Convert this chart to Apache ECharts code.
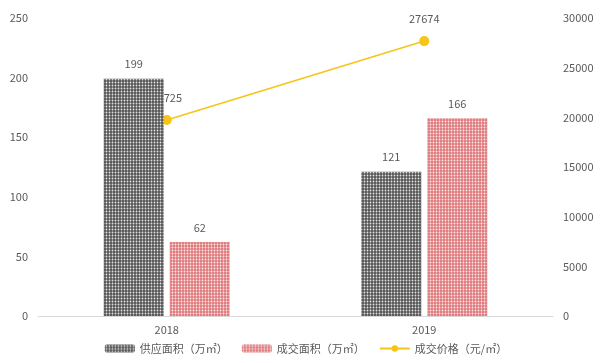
<!DOCTYPE html>
<html><head><meta charset="utf-8">
<script src="https://cdn.jsdelivr.net/npm/echarts@6/dist/echarts.min.js"></script>
<style>html,body{margin:0;padding:0;background:#fff}#c{width:612px;height:363px}</style>
</head><body><div id="c"></div>
<script>
var categories = ['2018', '2019'];
var supplyArea = [199, 121];
var dealArea = [62, 166];
var dealPrice = [19725, 27674];
var leftTicks = [0, 250, 50];
var rightTicks = [0, 30000, 5000];
var seriesNames = ['供应面积（万㎡）', '成交面积（万㎡）', '成交价格（元/㎡）'];

var font = '"Microsoft YaHei","Noto Sans CJK SC",sans-serif';
var txt = '#595959';
function dots(){
  return {symbol:'circle', symbolSize:0.6, color:'rgba(255,255,255,0.85)', dashArrayX:[3,0], dashArrayY:[3,0], rotation:0};
}
var chart = echarts.init(document.getElementById('c'));
chart.setOption({
  animation:false,
  textStyle:{fontFamily:font},
  grid:{left:38, right:59, top:18, bottom:47, containLabel:false},
  legend:{bottom:4, left:'center', itemWidth:30, itemHeight:8, itemGap:14,
    textStyle:{color:txt, fontSize:11, fontFamily:font},
    data:[{name:seriesNames[0]},{name:seriesNames[1]},{name:seriesNames[2]}]},
  xAxis:{type:'category', data:categories,
    axisLine:{lineStyle:{color:'#d9d9d9'}}, axisTick:{show:false},
    axisLabel:{color:txt, fontSize:11, margin:8}},
  yAxis:[
    {type:'value', min:leftTicks[0], max:leftTicks[1], interval:leftTicks[2],
      splitLine:{show:false}, axisLine:{show:false}, axisTick:{show:false},
      axisLabel:{color:txt, fontSize:11, margin:10}},
    {type:'value', min:rightTicks[0], max:rightTicks[1], interval:rightTicks[2],
      splitLine:{show:false}, axisLine:{show:false}, axisTick:{show:false},
      axisLabel:{color:txt, fontSize:11, margin:10, formatter:function(v){return String(v);}}}
  ],
  series:[
    {name:seriesNames[2], type:'line', yAxisIndex:1, data:dealPrice, z:1,
      symbol:'circle', symbolSize:10,
      lineStyle:{color:'#f5c518', width:1.6}, itemStyle:{color:'#f5c518'},
      label:{show:true, position:'top', distance:12, color:txt, fontSize:11}},
    {name:seriesNames[0], type:'bar', data:supplyArea, barWidth:60, barGap:'10%', z:2,
      itemStyle:{color:'#555555', decal:dots()},
      label:{show:true, position:'top', distance:9, color:txt, fontSize:11}},
    {name:seriesNames[1], type:'bar', data:dealArea, barWidth:60, z:2,
      itemStyle:{color:'#e07a7c', decal:dots()},
      label:{show:true, position:'top', distance:9, color:txt, fontSize:11}}
  ]
});
</script></body></html>
